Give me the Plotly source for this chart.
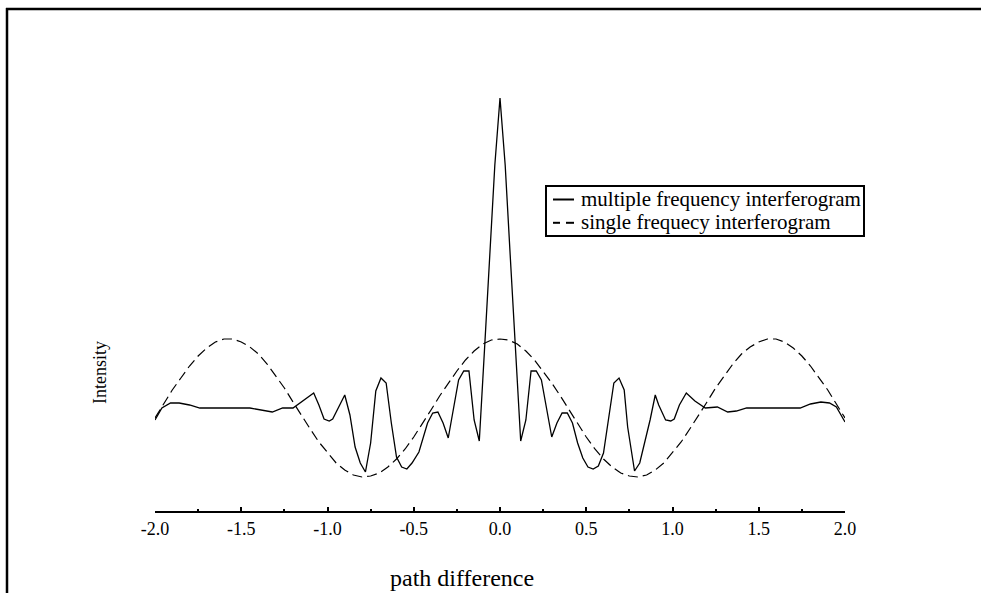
import plotly.graph_objects as go

# dashed: single frequency interferogram
single_x = [-2.0, -1.95, -1.9, -1.85, -1.8, -1.75, -1.7, -1.65, -1.6, -1.55, -1.5, -1.45, -1.4, -1.35, -1.3,
            -1.25, -1.2, -1.15, -1.1, -1.05, -1.0, -0.95, -0.9, -0.85, -0.8, -0.75, -0.7, -0.65, -0.6, -0.55,
            -0.5, -0.45, -0.4, -0.35, -0.3, -0.25, -0.2, -0.15, -0.1, -0.05, 0.0,
            0.05, 0.1, 0.15, 0.2, 0.25, 0.3, 0.35, 0.4, 0.45, 0.5, 0.55, 0.6, 0.65, 0.7, 0.75, 0.8, 0.85, 0.9,
            0.95, 1.0, 1.05, 1.1, 1.15, 1.2, 1.25, 1.3, 1.35, 1.4, 1.45, 1.5, 1.55, 1.6, 1.65, 1.7, 1.75, 1.8,
            1.85, 1.9, 1.95, 2.0]
single_y = [93, 107, 121, 133, 145, 155, 163, 169, 172, 172, 169, 164, 157, 147, 135,
            123, 109, 95, 82, 69, 58, 48, 41, 36, 34, 35, 38, 44, 52, 62,
            74, 87, 101, 115, 128, 140, 151, 160, 167, 171, 172,
            171, 167, 160, 151, 140, 128, 115, 101, 87, 74, 62, 52, 44, 38, 35, 34, 36, 41,
            48, 58, 69, 82, 95, 109, 123, 135, 147, 157, 164, 169, 172, 172, 169, 163, 155, 145,
            133, 121, 107, 93]

# solid: multiple frequency interferogram (vertices)
multi_x = [-2.00, -1.96, -1.91, -1.86, -1.80, -1.74, -1.45, -1.39, -1.32, -1.26,
           -1.20, -1.08, -1.05, -1.02, -0.99, -0.97, -0.90, -0.87, -0.84, -0.81,
           -0.78, -0.75, -0.72, -0.69, -0.66, -0.63, -0.60, -0.57, -0.54, -0.51,
           -0.47, -0.42, -0.39, -0.36, -0.33, -0.30, -0.24, -0.21, -0.18, -0.15,
           -0.12, -0.09, -0.06, -0.03, 0.00,
           0.03, 0.06, 0.09, 0.12, 0.15, 0.18, 0.21, 0.24,
           0.30, 0.33, 0.36, 0.39, 0.42, 0.45, 0.48, 0.51, 0.54, 0.57, 0.60,
           0.63, 0.66, 0.69, 0.72, 0.74, 0.78, 0.81, 0.84, 0.87, 0.90,
           0.92, 0.96, 0.99, 1.01, 1.04, 1.08, 1.13, 1.19, 1.26, 1.32,
           1.37, 1.43, 1.74, 1.80, 1.86, 1.91, 1.95, 2.00]
multi_y = [91, 103, 108, 108, 106, 103, 103, 101, 99, 103,
           103, 118, 106, 92, 90, 92, 116, 96, 64, 48,
           39, 68, 120, 133, 128, 88, 54, 44, 42, 48,
           59, 88, 98, 99, 88, 73, 131, 140, 140, 91,
           70, 161, 253, 346, 413,
           346, 253, 161, 70, 91, 140, 140, 131,
           74, 88, 98, 98, 88, 68, 53, 44, 42, 45, 58,
           91, 128, 133, 121, 84, 40, 48, 68, 91, 116,
           106, 91, 90, 92, 106, 118, 110, 103, 104, 99,
           100, 103, 103, 107, 109, 108, 104, 89]

tick_vals = [-2.0, -1.5, -1.0, -0.5, 0.0, 0.5, 1.0, 1.5, 2.0]
tick_text = ["-2.0", "-1.5", "-1.0", "-0.5", "0.0", "0.5", "1.0", "1.5", "2.0"]
minor_vals = [-1.75, -1.25, -0.75, -0.25, 0.25, 0.75, 1.25, 1.75]

legend_names = ["multiple frequency interferogram", "single frequecy interferogram"]

SERIF = "Liberation Serif"
W, H = 981, 593
ML, MR, MT, MB = 155, 136, 50, 82
PW, PH = W - ML - MR, H - MT - MB


def px(xp):
    return (xp - ML) / PW


def py(yp):
    return (H - MB - yp) / PH


fig = go.Figure()
fig.add_trace(go.Scatter(x=multi_x, y=multi_y, mode="lines",
                         name=legend_names[0],
                         line=dict(color="black", width=1.3)))
fig.add_trace(go.Scatter(x=single_x, y=single_y, mode="lines",
                         name=legend_names[1],
                         line=dict(color="black", width=1.2, dash="10px,5px")))

ROW1, ROW2 = 198.5, 221.8

shapes = [
    # outer frame: only top and left edges fall inside the picture
    dict(type="line", xref="paper", yref="paper",
         x0=px(6), x1=px(981), y0=py(9), y1=py(9),
         line=dict(color="black", width=2.5), layer="above"),
    dict(type="line", xref="paper", yref="paper",
         x0=px(7), x1=px(7), y0=py(8), y1=py(593),
         line=dict(color="black", width=2.5), layer="above"),
    # legend box, sample lines
    dict(type="rect", xref="paper", yref="paper",
         x0=px(546), x1=px(864), y0=py(236), y1=py(186),
         line=dict(color="black", width=2), fillcolor="white", layer="above"),
    dict(type="line", xref="paper", yref="paper",
         x0=px(553), x1=px(574), y0=py(ROW1 + 1), y1=py(ROW1 + 1),
         line=dict(color="black", width=2), layer="above"),
    dict(type="line", xref="paper", yref="paper",
         x0=px(553), x1=px(560), y0=py(ROW2 + 1), y1=py(ROW2 + 1),
         line=dict(color="black", width=2), layer="above"),
    dict(type="line", xref="paper", yref="paper",
         x0=px(566), x1=px(574), y0=py(ROW2 + 1), y1=py(ROW2 + 1),
         line=dict(color="black", width=2), layer="above"),
]

annotations = [
    dict(text=legend_names[0], xref="paper", yref="paper", x=px(579), y=py(ROW1),
         showarrow=False, xanchor="left", yanchor="middle",
         font=dict(family=SERIF, size=21, color="black")),
    dict(text=legend_names[1], xref="paper", yref="paper", x=px(579), y=py(ROW2),
         showarrow=False, xanchor="left", yanchor="middle",
         font=dict(family=SERIF, size=21, color="black")),
    dict(text="path difference", xref="paper", yref="paper", x=px(462), y=py(578),
         showarrow=False, xanchor="center", yanchor="middle",
         font=dict(family=SERIF, size=24, color="black")),
    dict(text="Intensity", xref="paper", yref="paper", x=px(100), y=py(373),
         showarrow=False, xanchor="center", yanchor="middle", textangle=-90,
         font=dict(family=SERIF, size=18, color="black")),
]

fig.update_layout(
    width=W, height=H,
    margin=dict(l=ML, r=MR, t=MT, b=MB),
    paper_bgcolor="white", plot_bgcolor="white",
    font=dict(family=SERIF, color="black", size=17),
    showlegend=False,
    xaxis=dict(range=[-2.0, 2.0], showgrid=False, zeroline=False,
               showline=True, linecolor="black", linewidth=2,
               ticks="inside", ticklen=4, tickwidth=1.5, tickcolor="black",
               tickvals=tick_vals, ticktext=tick_text,
               tickfont=dict(family=SERIF, size=18, color="black"),
               minor=dict(tickvals=minor_vals,
                          ticks="inside", ticklen=2, tickcolor="black", tickwidth=1.5)),
    yaxis=dict(range=[0, PH], visible=False, fixedrange=True),
    shapes=shapes,
    annotations=annotations,
)

fig.write_html("out.html")
